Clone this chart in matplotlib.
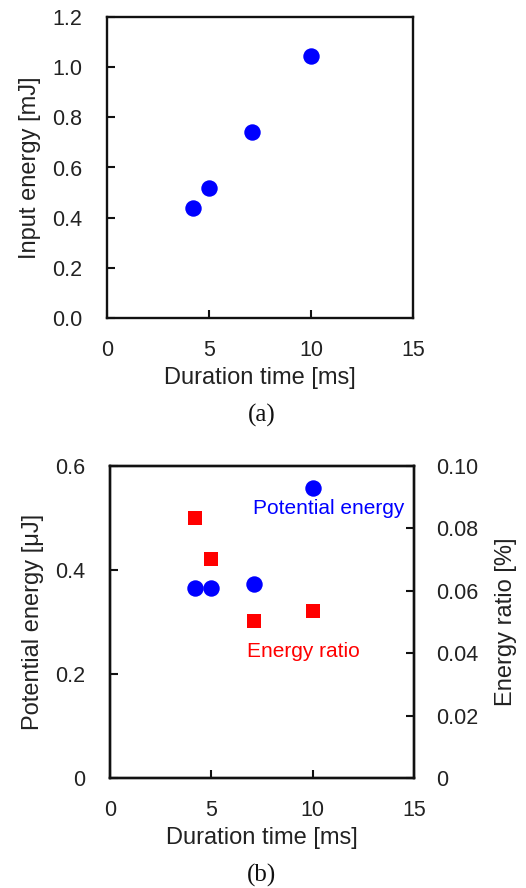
import matplotlib
matplotlib.use("Agg")
import matplotlib.pyplot as plt

plt.rcParams['font.family'] = ['Liberation Sans', 'DejaVu Sans']

# Panel (a)
duration_a = [4.2, 5.0, 7.1, 10.0]
input_energy = [0.437, 0.52, 0.743, 1.045]

# Panel (b)
duration_b = [4.2, 5.0, 7.1, 10.0]
potential_energy = [0.366, 0.366, 0.373, 0.558]
energy_ratio = [0.0832, 0.0703, 0.0504, 0.0534]

xticks = [0, 5, 10, 15]
yticks_a = [0.0, 0.2, 0.4, 0.6, 0.8, 1.0, 1.2]
yticks_b = [0, 0.2, 0.4, 0.6]
yticks_b_labels = ['0', '0.2', '0.4', '0.6']
yticks_r = [0, 0.02, 0.04, 0.06, 0.08, 0.10]
yticks_r_labels = ['0', '0.02', '0.04', '0.06', '0.08', '0.10']

W, H = 526, 888
fig = plt.figure(figsize=(W/100, H/100), dpi=100)
TXT = '#222222'
FS = 15.5
LFS = 17

def ax_rect(l, r, t, b):
    return [l/W, (H-b)/H, (r-l)/W, (b-t)/H]

def style(ax):
    for s in ax.spines.values():
        s.set_linewidth(1.7)
        s.set_color('#111111')
    ax.tick_params(direction='in', length=6, width=1.5, colors='#111111',
                   labelcolor=TXT, labelsize=FS)
    ax.tick_params(axis='x', pad=16)
    ax.tick_params(axis='y', pad=18)

# ---- (a)
ax1 = fig.add_axes(ax_rect(107, 413, 17, 318))
ax1.scatter(duration_a, input_energy, s=140, color='#0000ff', zorder=3, linewidths=0)
ax1.set_xlim(0, 15)
ax1.set_ylim(0, 1.2)
ax1.set_xticks(xticks)
ax1.set_yticks(yticks_a)
ax1.set_yticklabels([f'{v:.1f}' for v in yticks_a])
style(ax1)
ax1.tick_params(top=False, right=False)
ax1.set_xlabel('Duration time [ms]', fontsize=LFS, color=TXT, labelpad=4)
ax1.set_ylabel('Input energy [mJ]', fontsize=LFS, color=TXT, labelpad=8)
fig.text(262/W, 1-415/H, '(a)', ha='center', va='center', fontsize=18,
         family='Liberation Serif', color='#111111')

# ---- (b)
ax2 = fig.add_axes(ax_rect(110, 414, 466, 778))
ax2.scatter(duration_b, potential_energy, s=140, color='#0000ff', zorder=3, linewidths=0)
ax2.set_xlim(0, 15)
ax2.set_ylim(0, 0.6)
ax2.set_xticks(xticks)
ax2.set_yticks(yticks_b)
ax2.set_yticklabels(yticks_b_labels)
style(ax2)
ax2.tick_params(top=False, right=False)
ax2.set_xlabel('Duration time [ms]', fontsize=LFS, color=TXT, labelpad=4)
ax2.set_ylabel('Potential energy [μJ]', fontsize=LFS, color=TXT, labelpad=8)

ax3 = ax2.twinx()
ax3.scatter(duration_b, energy_ratio, s=100, marker='s', color='#ff0000', zorder=3, linewidths=0)
ax3.set_ylim(0, 0.1)
ax3.set_yticks(yticks_r)
ax3.set_yticklabels(yticks_r_labels)
style(ax3)
ax3.tick_params(axis='y', pad=16)
ax3.set_ylabel('Energy ratio [%]', fontsize=LFS, color=TXT, labelpad=12)

ax2.text(0.718, 0.865, 'Potential energy', transform=ax2.transAxes, ha='center', va='center',
         color='#0000ff', fontsize=FS - 0.5)
ax2.text(0.635, 0.407, 'Energy ratio', transform=ax2.transAxes, ha='center', va='center',
         color='#ff0000', fontsize=FS - 0.5)

fig.text(262/W, 1-875/H, '(b)', ha='center', va='center', fontsize=18,
         family='Liberation Serif', color='#111111')

fig.savefig('out.png', dpi=100)
